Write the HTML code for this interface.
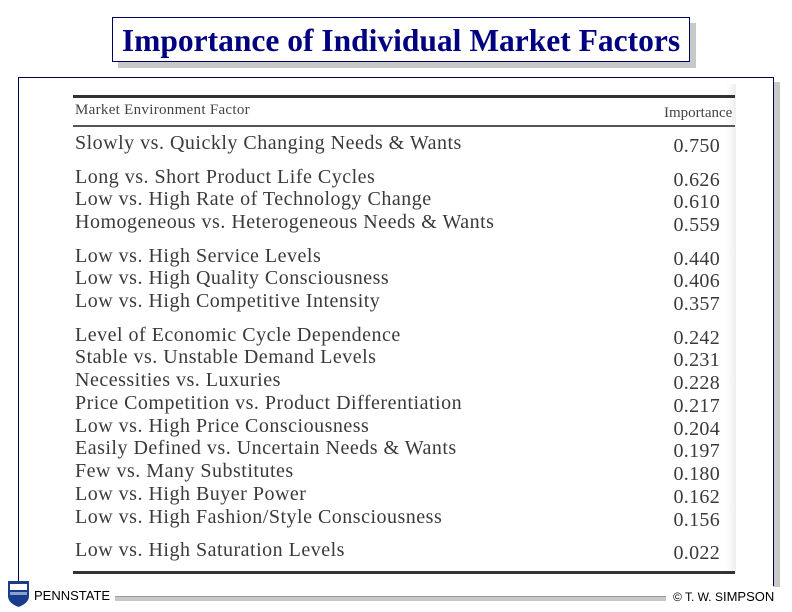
<!DOCTYPE html>
<html><head><meta charset="utf-8">
<style>
body{margin:0;width:792px;height:612px;background:#fff;position:relative;overflow:hidden;font-family:"Liberation Serif",serif}
.abs{position:absolute}
.row{position:absolute;left:75px;font-size:20px;letter-spacing:0.5px;color:#3a3a3a;white-space:nowrap;line-height:20px}
.val{position:absolute;right:72px;font-size:20px;letter-spacing:0.3px;color:#3a3a3a;line-height:20px}
</style></head><body>
<div class="abs" style="left:118px;top:23px;width:578px;height:45px;background:#c8c8c8"></div>
<div class="abs" style="left:112px;top:17px;width:576px;height:43px;border:1px solid #000060;background:#fff;color:#000080;font-weight:bold;font-size:31.5px;text-align:center;line-height:45px;white-space:nowrap">Importance of Individual Market Factors</div>
<div class="abs" style="left:773px;top:82px;width:7px;height:505px;background:#c8c8c8"></div>
<div class="abs" style="left:18px;top:77px;width:754px;height:508px;border:1px solid #000050;border-bottom:none;background:#fff"></div>
<div class="abs" style="left:726px;top:84px;width:10px;height:490px;background:linear-gradient(to right,#fff,#eee)"></div>
<div class="abs" style="left:73px;top:95px;width:662px;height:3px;background:#333"></div>
<div class="abs" style="left:75px;top:102px;font-size:15px;letter-spacing:0.3px;color:#444">Market Environment Factor</div>
<div class="abs" style="left:664px;top:105px;font-size:15px;color:#444">Importance</div>
<div class="abs" style="left:73px;top:125px;width:662px;height:2px;background:#555"></div>
<div id="rows"></div>
<div class="abs" style="left:73px;top:571px;width:662px;height:3px;background:#333"></div>
<div class="abs" style="left:115px;top:596px;width:551px;height:4px;background:#c8c8c8;border-top:1px solid #999"></div>
<svg class="abs" style="left:7px;top:580px" width="24" height="28"><path d="M1 1H22V16Q22 23 11.5 27Q1 23 1 16Z" fill="#1a3c8c"/><rect x="3" y="4" width="17" height="6" fill="#fff"/><rect x="3" y="12" width="17" height="3" fill="#8aa0d0"/></svg>
<div class="abs" style="left:34px;top:588px;font-family:'Liberation Sans',sans-serif;font-size:13px;color:#000">PENNSTATE</div>
<div class="abs" style="left:673px;top:589px;font-family:'Liberation Sans',sans-serif;font-size:12px;color:#000">© T. W. S<span style="font-size:13px">IMPSON</span></div>
<script>
const factors=["Slowly vs. Quickly Changing Needs & Wants","Long vs. Short Product Life Cycles","Low vs. High Rate of Technology Change","Homogeneous vs. Heterogeneous Needs & Wants","Low vs. High Service Levels","Low vs. High Quality Consciousness","Low vs. High Competitive Intensity","Level of Economic Cycle Dependence","Stable vs. Unstable Demand Levels","Necessities vs. Luxuries","Price Competition vs. Product Differentiation","Low vs. High Price Consciousness","Easily Defined vs. Uncertain Needs & Wants","Few vs. Many Substitutes","Low vs. High Buyer Power","Low vs. High Fashion/Style Consciousness","Low vs. High Saturation Levels"];
const importance=["0.750","0.626","0.610","0.559","0.440","0.406","0.357","0.242","0.231","0.228","0.217","0.204","0.197","0.180","0.162","0.156","0.022"];
const groups=[0,1,1,1,2,2,2,3,3,3,3,3,3,3,3,3,4];
const c=document.getElementById('rows');
let y=133;
for(let i=0;i<factors.length;i++){
  if(i>0){y+=22.75;if(groups[i]!==groups[i-1])y+=10.8;}
  const r=document.createElement('div');r.className='row';r.style.top=y+'px';r.textContent=factors[i];
  
  
  c.appendChild(r);
  const v=document.createElement('div');v.className='val';v.style.top=(y+3)+'px';v.textContent=importance[i];
  
  
  c.appendChild(v);
}
</script>
</body></html>
